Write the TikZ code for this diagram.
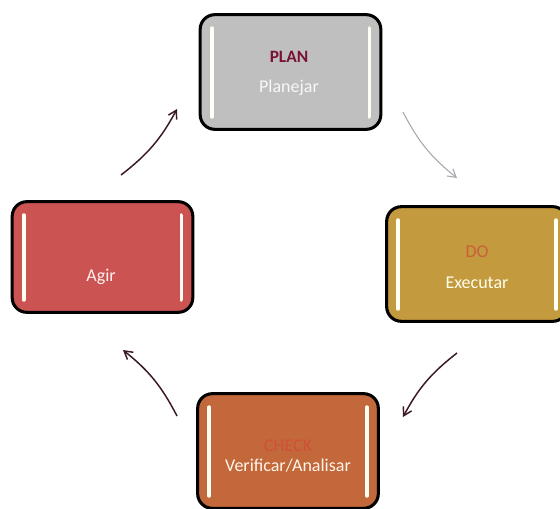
\documentclass[tikz,border=0pt]{standalone}
\usepackage{fontspec}
\setmainfont{Carlito}
\usetikzlibrary{arrows.meta,calc}
\definecolor{planfill}{HTML}{BFBFBF}
\definecolor{dofill}{HTML}{C49A3E}
\definecolor{actfill}{HTML}{CB5452}
\definecolor{checkfill}{HTML}{C2683A}
\definecolor{plantxt}{HTML}{7A1235}
\definecolor{dotxt}{HTML}{C8603A}
\definecolor{checktxt}{HTML}{D0503A}
\definecolor{arrowc}{HTML}{3A1A22}
\definecolor{faintc}{HTML}{A8A8B0}
\begin{document}
\begin{tikzpicture}[x=0.75pt,y=-0.75pt,
  pdcabox/.style={draw=black,line width=2.3pt,rounded corners=11pt,inner sep=0pt,
    minimum width=135.5pt,minimum height=86pt},
  hibar/.style={draw=white!96!yellow,line width=2.8pt,line cap=round},
  lbl/.style={font=\fontsize{13.5}{15}\selectfont,inner sep=1pt},
  cyc/.style={draw=arrowc,line width=1.1pt,-{Straight Barb[length=6pt,width=7pt]}}]
\clip (0,0) rectangle (560,508);
\fill[white] (0,0) rectangle (560,508);
% boxes
\node[pdcabox,fill=planfill] (plan) at (290.5,72) {};
\node[pdcabox,fill=dofill] (do) at (477,264) {};
\node[pdcabox,fill=actfill,minimum height=83pt] (act) at (102.5,257) {};
\node[pdcabox,fill=checkfill] (check) at (288,451) {};
% highlight bars
\foreach \b in {plan,do,act,check}{
  \draw[hibar] ($(\b.north west)+(13,15)$) -- ($(\b.south west)+(13,-14)$);
  \draw[hibar] ($(\b.north east)+(-13,15)$) -- ($(\b.south east)+(-13,-14)$);
}
% labels
\node[lbl,font=\fontsize{13}{15}\selectfont\bfseries,text=plantxt] (plant) at (289,57) {PLAN};
\node[lbl,text=white!94!gray] (plans) at (289,88) {Planejar};
\node[lbl,text=dotxt] (dot) at (477,252) {DO};
\node[lbl,text=white!92!yellow] (dos) at (477,283) {Executar};
\node[lbl,text=white!94!red] (actt) at (101,277) {Agir};
\node[lbl,text=checktxt] (checkt) at (288,446) {CHECK};
\node[lbl,text=white!92!orange] (checks) at (288,466) {Verificar/Analisar};
% connectors
\coordinate (p1) at (403,112);
\coordinate (p2) at (457,178);
\coordinate (d1) at (457,353);
\coordinate (d2) at (403,417);
\coordinate (c1) at (177,416);
\coordinate (c2) at (123,350);
\coordinate (a1) at (121,175);
\coordinate (a2) at (177,109);
\draw[cyc,draw=faintc,line width=0.8pt] (p1) to[bend right=12] (p2);
\draw[cyc] (d1) to[bend right=12] (d2);
\draw[cyc] (c1) to[bend right=12] (c2);
\draw[cyc] (a1) to[bend right=12] (a2);
\end{tikzpicture}
\end{document}
